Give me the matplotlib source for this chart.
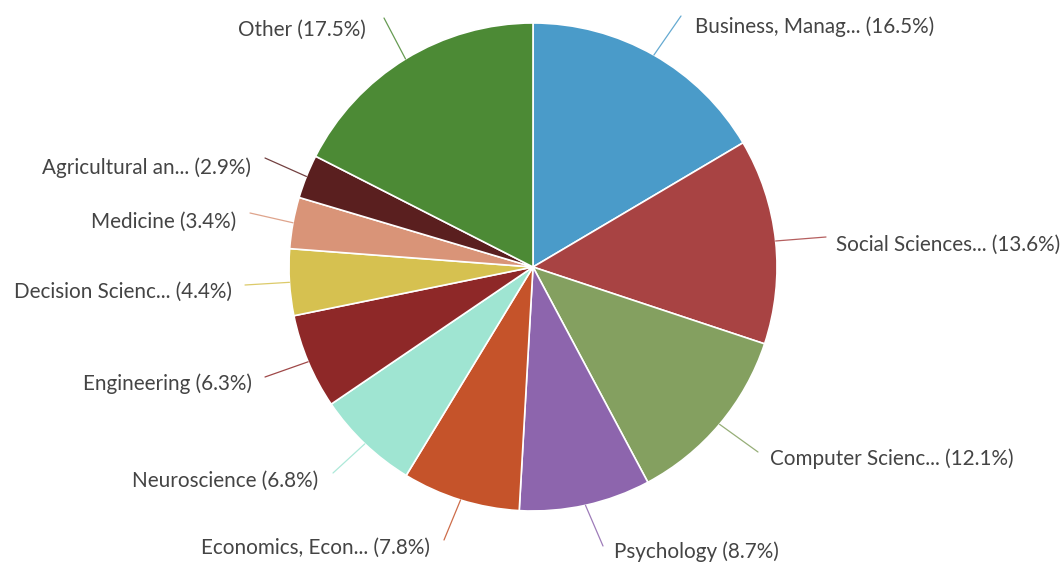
import numpy as np
import matplotlib
matplotlib.use("Agg")
import matplotlib.pyplot as plt

categories = ["Business, Manag...", "Social Sciences...", "Computer Scienc...",
              "Psychology", "Economics, Econ...", "Neuroscience", "Engineering",
              "Decision Scienc...", "Medicine", "Agricultural an...", "Other"]
shares = [16.5, 13.6, 12.1, 8.7, 7.8, 6.8, 6.3, 4.4, 3.4, 2.9, 17.5]
colors = ["#4a9bc9", "#a84343", "#84a060", "#8d65ad", "#c5532a", "#9fe5d2",
          "#8e2828", "#d6c150", "#d99478", "#5a1f1f", "#4c8a35"]

W, H = 1064, 562
fig = plt.figure(figsize=(W / 100, H / 100), dpi=100)
ax = fig.add_axes([0, 0, 1, 1])
ax.set_xlim(0, W)
ax.set_ylim(0, H)
ax.axis("off")

cx, cy, R = 533, H - 267, 244
wedges, _ = ax.pie(shares, colors=colors, startangle=90, counterclock=False,
                   center=(cx, cy), radius=R, normalize=True,
                   wedgeprops=dict(edgecolor="white", linewidth=1.2))
ax.set_xlim(0, W)
ax.set_ylim(0, H)
ax.set_aspect("equal")

# label placement: (text x, text y, alignment, connector end x, connector end y) in pixels from top-left
label_layout = [
    (695, 27, "left", 681, 16),
    (836, 245, "left", 826, 237),
    (770, 459, "left", 758, 452),
    (614, 552, "left", 603, 546),
    (430, 548, "right", 444, 540),
    (318, 481, "right", 333, 473),
    (252, 384, "right", 265, 377),
    (232, 292, "right", 245, 285),
    (236, 222, "right", 250, 213),
    (251, 168, "right", 265, 158),
    (366, 30, "right", 384, 18),
]

for w, name, val, col, (tx, ty, ha, ex, ey) in zip(wedges, categories, shares, colors, label_layout):
    ang = np.deg2rad((w.theta1 + w.theta2) / 2)
    sx, sy = cx + R * np.cos(ang), cy + R * np.sin(ang)
    ax.plot([sx, ex], [sy, H - ey], color=col, lw=0.9, alpha=0.85, solid_capstyle="round")
    ax.text(tx, H - ty, f"{name} ({val}%)", ha=ha, va="center",
            fontsize=14.9, color="#444444", family=["Lato", "DejaVu Sans"])

fig.savefig("out.png", dpi=100)
